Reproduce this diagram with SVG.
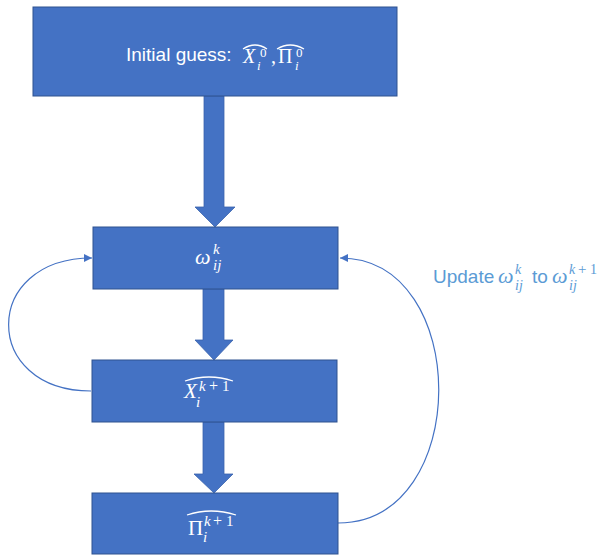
<svg xmlns="http://www.w3.org/2000/svg" width="611" height="555" viewBox="0 0 611 555">
<defs>
<style>
.box{fill:#4472C4;stroke:#2F528F;stroke-width:1}
.big{fill:#4472C4;stroke:#3A63AD;stroke-width:0.8}
.lbl{font-family:"Liberation Sans",Arial,sans-serif;font-size:19px;fill:#FFFFFF}
.m{font-family:"Liberation Serif","Times New Roman",serif;fill:#FFFFFF}
.mi{font-style:italic}
.hat{fill:none;stroke:#FFFFFF;stroke-width:1.3}
.cur{fill:none;stroke:#4472C4;stroke-width:1.2}
.up{font-family:"Liberation Sans",Arial,sans-serif;font-size:19px;fill:#5B9BD5}
.um{font-family:"Liberation Serif","Times New Roman",serif;fill:#5B9BD5}
</style>
<marker id="ah" viewBox="0 0 10 10" refX="10" refY="5" markerWidth="8" markerHeight="8" markerUnits="userSpaceOnUse" orient="auto">
<path d="M0,0 L10,5 L0,10 Z" fill="#4472C4"/>
</marker>
</defs>

<g id="connectors">
<path class="big" d="M204,96 L224,96 L224,207 L235,207 L215,227 L195,207 L204,207 Z"/>
<path class="big" d="M203,289 L224,289 L224,340 L233,340 L214,360 L195,340 L203,340 Z"/>
<path class="big" d="M203,422 L224,422 L224,474 L233,474 L214,493 L194,474 L203,474 Z"/>
<path class="cur" d="M91,391 C-19,391 -19,258 92,258" marker-end="url(#ah)"/>
<path class="cur" d="M338,523 C472,523 472,258 340,258" marker-end="url(#ah)"/>
</g>

<g id="node-initial">
<rect class="box" x="33" y="7" width="364" height="89"/>
<text class="lbl" x="126" y="61">Initial guess:</text>
<text class="m mi" x="243" y="63" font-size="20">X</text>
<text class="m mi" x="257" y="70" font-size="13">i</text>
<text class="m" x="260" y="57" font-size="13">0</text>
<path class="hat" d="M243,49 Q255,41 267,49"/>
<text class="m" x="271" y="63" font-size="20">,</text>
<text class="m" x="278" y="63" font-size="20">Π</text>
<text class="m mi" x="295" y="70" font-size="13">i</text>
<text class="m" x="296" y="57" font-size="13">0</text>
<path class="hat" d="M277,49 Q290,41 304,49"/>
</g>

<g id="node-omega">
<rect class="box" x="93" y="227" width="245" height="62"/>
<text class="m mi" x="195" y="264" font-size="22">ω</text>
<text class="m mi" x="213" y="254" font-size="15">k</text>
<text class="m mi" x="213" y="270" font-size="15">ij</text>
</g>

<g id="node-x">
<rect class="box" x="92" y="360" width="245" height="62"/>
<text class="m mi" x="184" y="398" font-size="21">X</text>
<text class="m mi" x="196" y="407" font-size="15">i</text>
<text class="m mi" x="199" y="391" font-size="15">k</text>
<text class="m" x="209" y="391" font-size="16">+</text>
<text class="m" x="222" y="391" font-size="15">1</text>
<path class="hat" d="M185,381 Q209,373 233,381"/>
</g>

<g id="node-pi">
<rect class="box" x="92" y="493" width="246" height="61"/>
<text class="m" x="188" y="535" font-size="21">Π</text>
<text class="m mi" x="203" y="542" font-size="15">i</text>
<text class="m mi" x="204" y="526" font-size="15">k</text>
<text class="m" x="213" y="526" font-size="16">+</text>
<text class="m" x="226" y="526" font-size="15">1</text>
<path class="hat" d="M187,515 Q211,507 236,515"/>
</g>

<g id="label-update">
<text class="up" x="433" y="283">Update</text>
<text class="um mi" x="498" y="283" font-size="22">ω</text>
<text class="um mi" x="515" y="274" font-size="14">k</text>
<text class="um mi" x="515" y="290" font-size="14">ij</text>
<text class="up" x="532" y="283">to</text>
<text class="um mi" x="552" y="283" font-size="22">ω</text>
<text class="um mi" x="569" y="274" font-size="14">k</text>
<text class="um" x="578" y="274" font-size="15">+</text>
<text class="um" x="590" y="274" font-size="14">1</text>
<text class="um mi" x="569" y="290" font-size="14">ij</text>
</g>
</svg>
